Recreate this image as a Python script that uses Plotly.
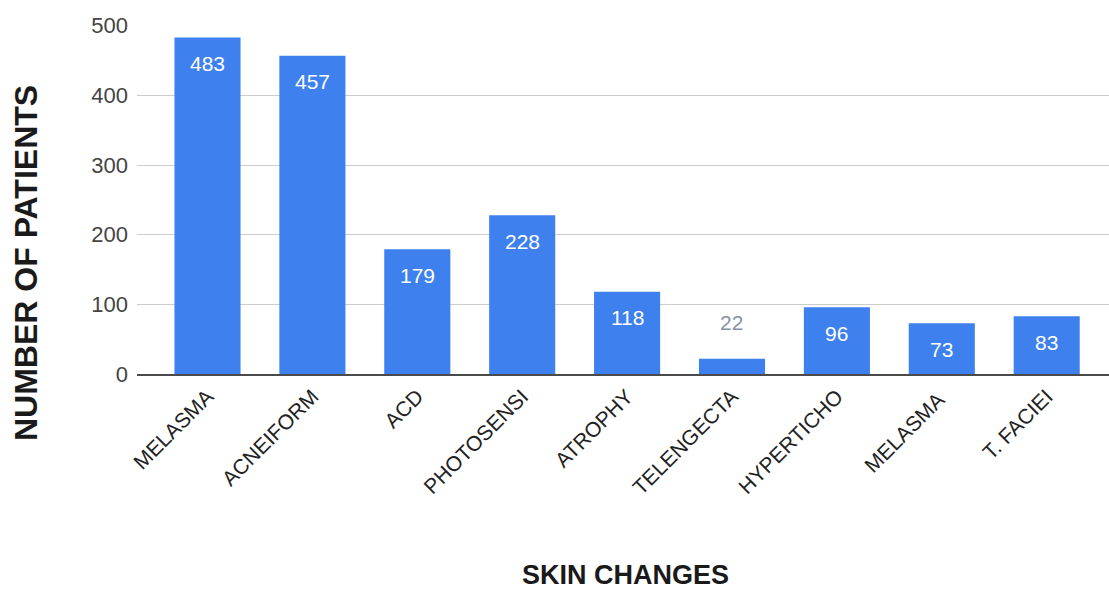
import plotly.graph_objects as go

categories = ["MELASMA", "ACNEIFORM", "ACD", "PHOTOSENSI", "ATROPHY",
              "TELENGECTA", "HYPERTICHO", "MELASMA ", "T. FACIEI"]
values = [483, 457, 179, 228, 118, 22, 96, 73, 83]
y_ticks = [0, 100, 200, 300, 400, 500]

x_title = "SKIN CHANGES"
y_title = "NUMBER OF PATIENTS"
fig_label = "FIG 3"

BAR = "#3d80ee"
FONT = "Liberation Sans, Arial, sans-serif"

idx = list(range(len(categories)))

fig = go.Figure()
fig.add_trace(go.Bar(
    x=idx, y=values, width=0.63,
    marker=dict(color=BAR, line=dict(width=0)),
    hoverinfo="skip",
))

for i, v in zip(idx, values):
    inside = v >= 50
    fig.add_annotation(
        x=i, y=v, xref="x", yref="y",
        text=str(v), showarrow=False,
        yshift=-26 if inside else 36,
        yanchor="middle",
        font=dict(family=FONT, size=21, color="#ffffff" if inside else "#8592a6"),
    )

fig.add_annotation(
    xref="paper", yref="paper", x=(26 - 137) / 972, y=(374 - 263) / 349,
    text=f"<b>{y_title}</b>", textangle=-90, showarrow=False,
    xanchor="center", yanchor="middle",
    font=dict(family=FONT, size=32, color="#1a1a1a"),
)
fig.add_annotation(
    xref="paper", yref="paper", x=(625 - 137) / 972, y=(374 - 575) / 349,
    text=f"<b>{x_title}</b>", showarrow=False,
    xanchor="center", yanchor="middle",
    font=dict(family=FONT, size=27, color="#1a1a1a"),
)
fig.add_annotation(
    xref="paper", yref="paper", x=(1025 - 137) / 972, y=(374 - 582) / 349,
    text=f"<b>{fig_label}</b>", showarrow=False,
    xanchor="left", yanchor="top",
    font=dict(family=FONT, size=28, color="#1a1a1a"),
)

fig.update_layout(
    width=1109, height=589,
    margin=dict(l=137, r=0, t=25, b=215),
    paper_bgcolor="white", plot_bgcolor="white",
    showlegend=False,
    bargap=0.37,
    xaxis=dict(
        range=[-0.672, 8.594],
        tickmode="array", tickvals=idx, ticktext=categories,
        tickangle=-45, showgrid=False, zeroline=False,
        showline=True, linecolor="#4a4a4a", linewidth=2,
        ticks="",
        tickfont=dict(family=FONT, size=21, color="#222222"),
    ),
    yaxis=dict(
        range=[0, 501],
        tickmode="array", tickvals=y_ticks,
        showgrid=True, gridcolor="#cccccc", gridwidth=1,
        zeroline=False, showline=False, ticks="",
        ticklabelstandoff=8,
        tickfont=dict(family=FONT, size=22, color="#444444"),
    ),
)

fig.write_html("out.html")
